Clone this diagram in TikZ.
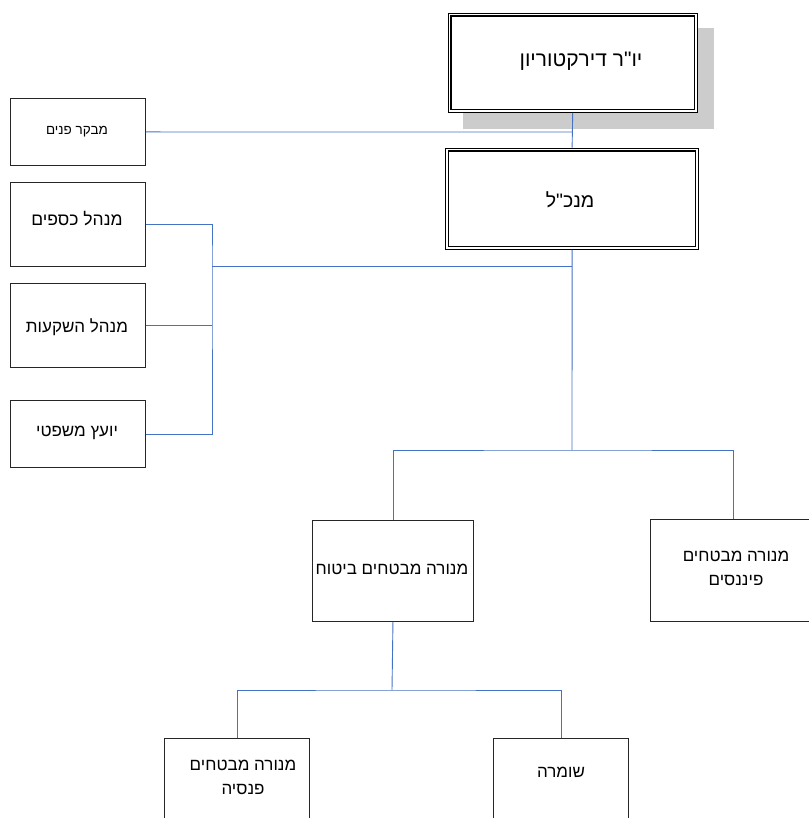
\documentclass[tikz,border=0pt]{standalone}
\usepackage{fontspec}
\TeXXeTstate=1
\newfontfamily\heb[Script=Hebrew]{Liberation Sans}
\definecolor{linec}{HTML}{4472C4}
\definecolor{shade}{RGB}{204,204,204}
\tikzset{
  box/.style={draw=black!85, line width=0.9pt, fill=white, inner sep=0pt, anchor=north west},
  dbox/.style={draw=black, line width=1.2pt, fill=white, inner sep=0pt, anchor=north west},
  inner/.style={draw=black, line width=1.2pt},
  conn/.style={draw=linec, line width=0.9pt},
  shadowbox/.style={fill=shade, draw=none, inner sep=0pt, anchor=north west},
  txt/.style={font=\heb, inner sep=0pt, align=center},
}
\newcommand{\rl}[1]{\beginR #1\endR}
\begin{document}
\begin{tikzpicture}[x=1pt,y=-1pt]
\useasboundingbox (0,0) rectangle (808,818);
% shadow
\node[shadowbox, minimum width=251pt, minimum height=101pt] (shadow) at (463,28) {};
% boxes
\node[dbox, minimum width=249pt, minimum height=99pt] (chair) at (447.6,12.6) {};
\draw[inner] ([shift={(3.4,3.4)}]chair.north west) rectangle ([shift={(-3.4,-3.4)}]chair.south east);
\node[dbox, minimum width=253pt, minimum height=101pt] (mgr) at (445,147.6) {};
\draw[inner] ([shift={(3.4,3.4)}]mgr.north west) rectangle ([shift={(-3.4,-3.4)}]mgr.south east);
\node[box, minimum width=135pt, minimum height=67pt] (aud) at (10,98) {};
\node[box, minimum width=135pt, minimum height=84pt] (fin) at (10,182) {};
\node[box, minimum width=135pt, minimum height=84pt] (inv) at (10,283) {};
\node[box, minimum width=135pt, minimum height=67pt] (legal) at (10,400) {};
\node[box, minimum width=161pt, minimum height=101pt] (ins) at (312,520) {};
\node[box, minimum width=166pt, minimum height=102pt] (finc) at (650,519) {};
\node[box, minimum width=145pt, minimum height=110pt] (pen) at (164,738) {};
\node[box, minimum width=135pt, minimum height=110pt] (guard) at (493,738) {};
% texts
\node[txt, font=\heb\fontsize{21}{24}\selectfont] (tchair) at (581,61) {\rl{יו"ר דירקטוריון}};
\node[txt, font=\heb\fontsize{19.5}{23}\selectfont] (tmgr) at (570,200) {\rl{מנכ"ל}};
\node[txt, font=\heb\fontsize{13.5}{16}\selectfont] (taud) at (77,132) {\rl{מבקר פנים}};
\node[txt, font=\heb\fontsize{17.5}{20}\selectfont] (tfin) at (77,219) {\rl{מנהל כספים}};
\node[txt, font=\heb\fontsize{17}{20}\selectfont] (tinv) at (77,327) {\rl{מנהל השקעות}};
\node[txt, font=\heb\fontsize{17}{20}\selectfont] (tlegal) at (77,433) {\rl{יועץ משפטי}};
\node[txt, font=\heb\fontsize{17}{20}\selectfont] (tins) at (392,569) {\rl{מנורה מבטחים ביטוח}};
\node[txt, font=\heb\fontsize{17}{24}\selectfont] (tfinc) at (736,568) {\rl{מנורה מבטחים}\\\rl{פיננסים}};
\node[txt, font=\heb\fontsize{17}{24}\selectfont] (tpen) at (243,777) {\rl{מנורה מבטחים}\\\rl{פנסיה}};
\node[txt, font=\heb\fontsize{17}{20}\selectfont] (tguard) at (561,772) {\rl{שומרה}};
% junctions
\coordinate (j1) at (572,132);
\coordinate (bus) at (212,266);
\coordinate (split) at (572,450);
\coordinate (split2) at (392,690);
% connectors
\draw[conn] (chair.south) -- (mgr.north);
\draw[conn] (aud.east) -- (j1);
\draw[conn] (fin.east) -| (bus) |- (legal.east);
\draw[conn] (inv.east) -- (inv.east -| bus);
\draw[conn] (bus) -- (bus -| mgr.south);
\draw[conn] (mgr.south) -- (split);
\draw[conn] (ins.north) |- (split) -| (finc.north);
\draw[conn] (ins.south) -- (split2);
\draw[conn] (pen.north) |- (split2) -| (guard.north);
\end{tikzpicture}
\end{document}
